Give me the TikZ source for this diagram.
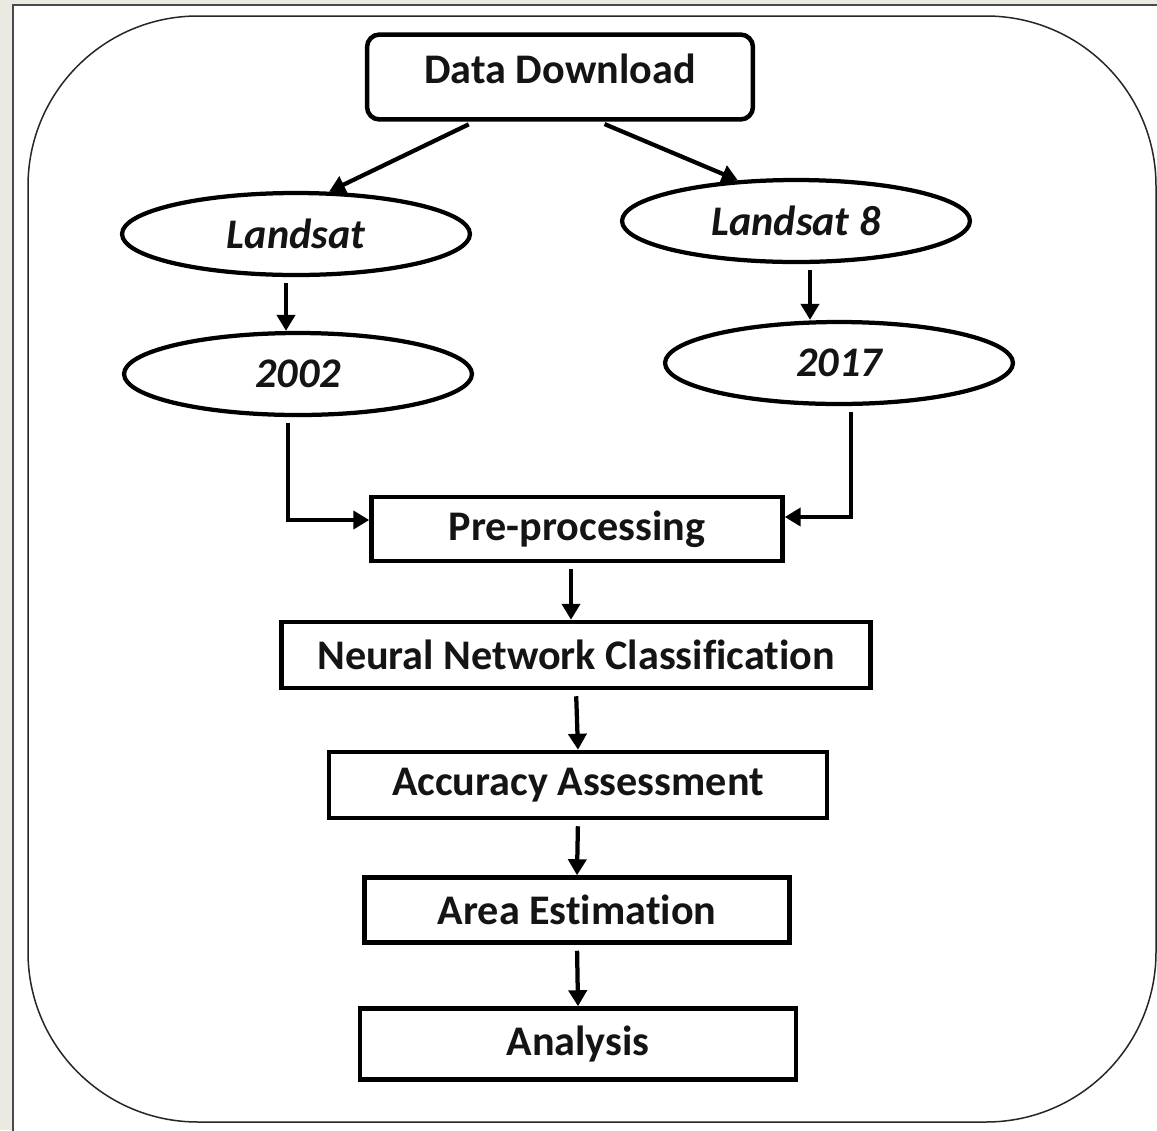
\documentclass[tikz,border=0pt]{standalone}
\usepackage{fontspec}
\setmainfont[Ligatures=NoCommon]{Carlito}
\usetikzlibrary{shapes.geometric,arrows.meta,calc}
\definecolor{bgbeige}{HTML}{ECE9E2}
\definecolor{framegray}{HTML}{4A4A4A}
\tikzset{
  txt/.style={font=\fontsize{24}{29}\selectfont\bfseries, text=black!92},
  itxt/.style={font=\fontsize{24}{29}\selectfont\bfseries\itshape, text=black!92},
  stepbox/.style={draw, line width=0.09cm, inner sep=0pt, txt},
  ovalbox/.style={ellipse, draw, line width=0.085cm, inner sep=0pt, itxt, minimum width=6.96cm, minimum height=1.64cm},
  conn/.style={line width=0.085cm, -{Triangle[length=0.32cm,width=0.36cm]}, shorten <=0.12cm}
}
\begin{document}
\begin{tikzpicture}[x=0.02cm,y=-0.02cm]
\useasboundingbox (0,0) rectangle (1157,1130);
\fill[bgbeige] (0,0) rectangle (1157,1130);
\draw[framegray, line width=0.04cm, fill=white] (13,5) rectangle (1200,1170);
\draw[black!85, line width=0.03cm, rounded corners=3.4cm] (28,16) rectangle (1156,1122);

\node[stepbox, rounded corners=0.25cm, minimum width=7.72cm, minimum height=1.7cm, text height=0.55cm, text depth=0.3cm] (dd) at (560,77) {Data Download};
\node[ovalbox] (ls) at (296,234) {Landsat};
\node[ovalbox] (ls8) at (796,221) {Landsat 8};
\node[ovalbox] (y02) at (298,374) {2002};
\node[ovalbox] (y17) at (839,363) {2017};
\node[stepbox, minimum width=8.22cm, minimum height=1.28cm] (pre) at (577,529) {Pre-processing};
\node[stepbox, minimum width=11.78cm, minimum height=1.32cm] (nn) at (576,655) {Neural Network Classification};
\node[stepbox, minimum width=9.96cm, minimum height=1.32cm] (aa) at (578,785) {Accuracy Assessment};
\node[stepbox, minimum width=8.5cm, minimum height=1.3cm] (ae) at (577,910) {Area Estimation};
\node[stepbox, minimum width=8.72cm, minimum height=1.42cm] (an) at (578,1044) {Analysis};

\draw[conn] ($(dd.south west)!0.28!(dd.south east)$) -- (ls.52);
\draw[conn] ($(dd.south west)!0.6!(dd.south east)$) -- (ls8.145);
\coordinate (pa) at ([xshift=-0.2cm]ls.south);
\draw[conn] (pa) -- (pa |- y02.north);
\coordinate (pb) at ([xshift=0.28cm]ls8.south);
\draw[conn] (pb) -- (pb |- y17.north);
\draw[conn] ([xshift=-0.2cm]y02.south) |- ([yshift=0.18cm]pre.west);
\draw[conn] ([xshift=0.24cm]y17.south) |- ([yshift=0.24cm]pre.east);
\coordinate (pc) at ([xshift=-0.12cm]pre.south);
\draw[conn] (pc) -- (pc |- nn.north);
\draw[conn] (nn.south) -- (aa.north);
\draw[conn] (aa.south) -- (ae.north);
\draw[conn] (ae.south) -- (an.north);
\end{tikzpicture}
\end{document}
